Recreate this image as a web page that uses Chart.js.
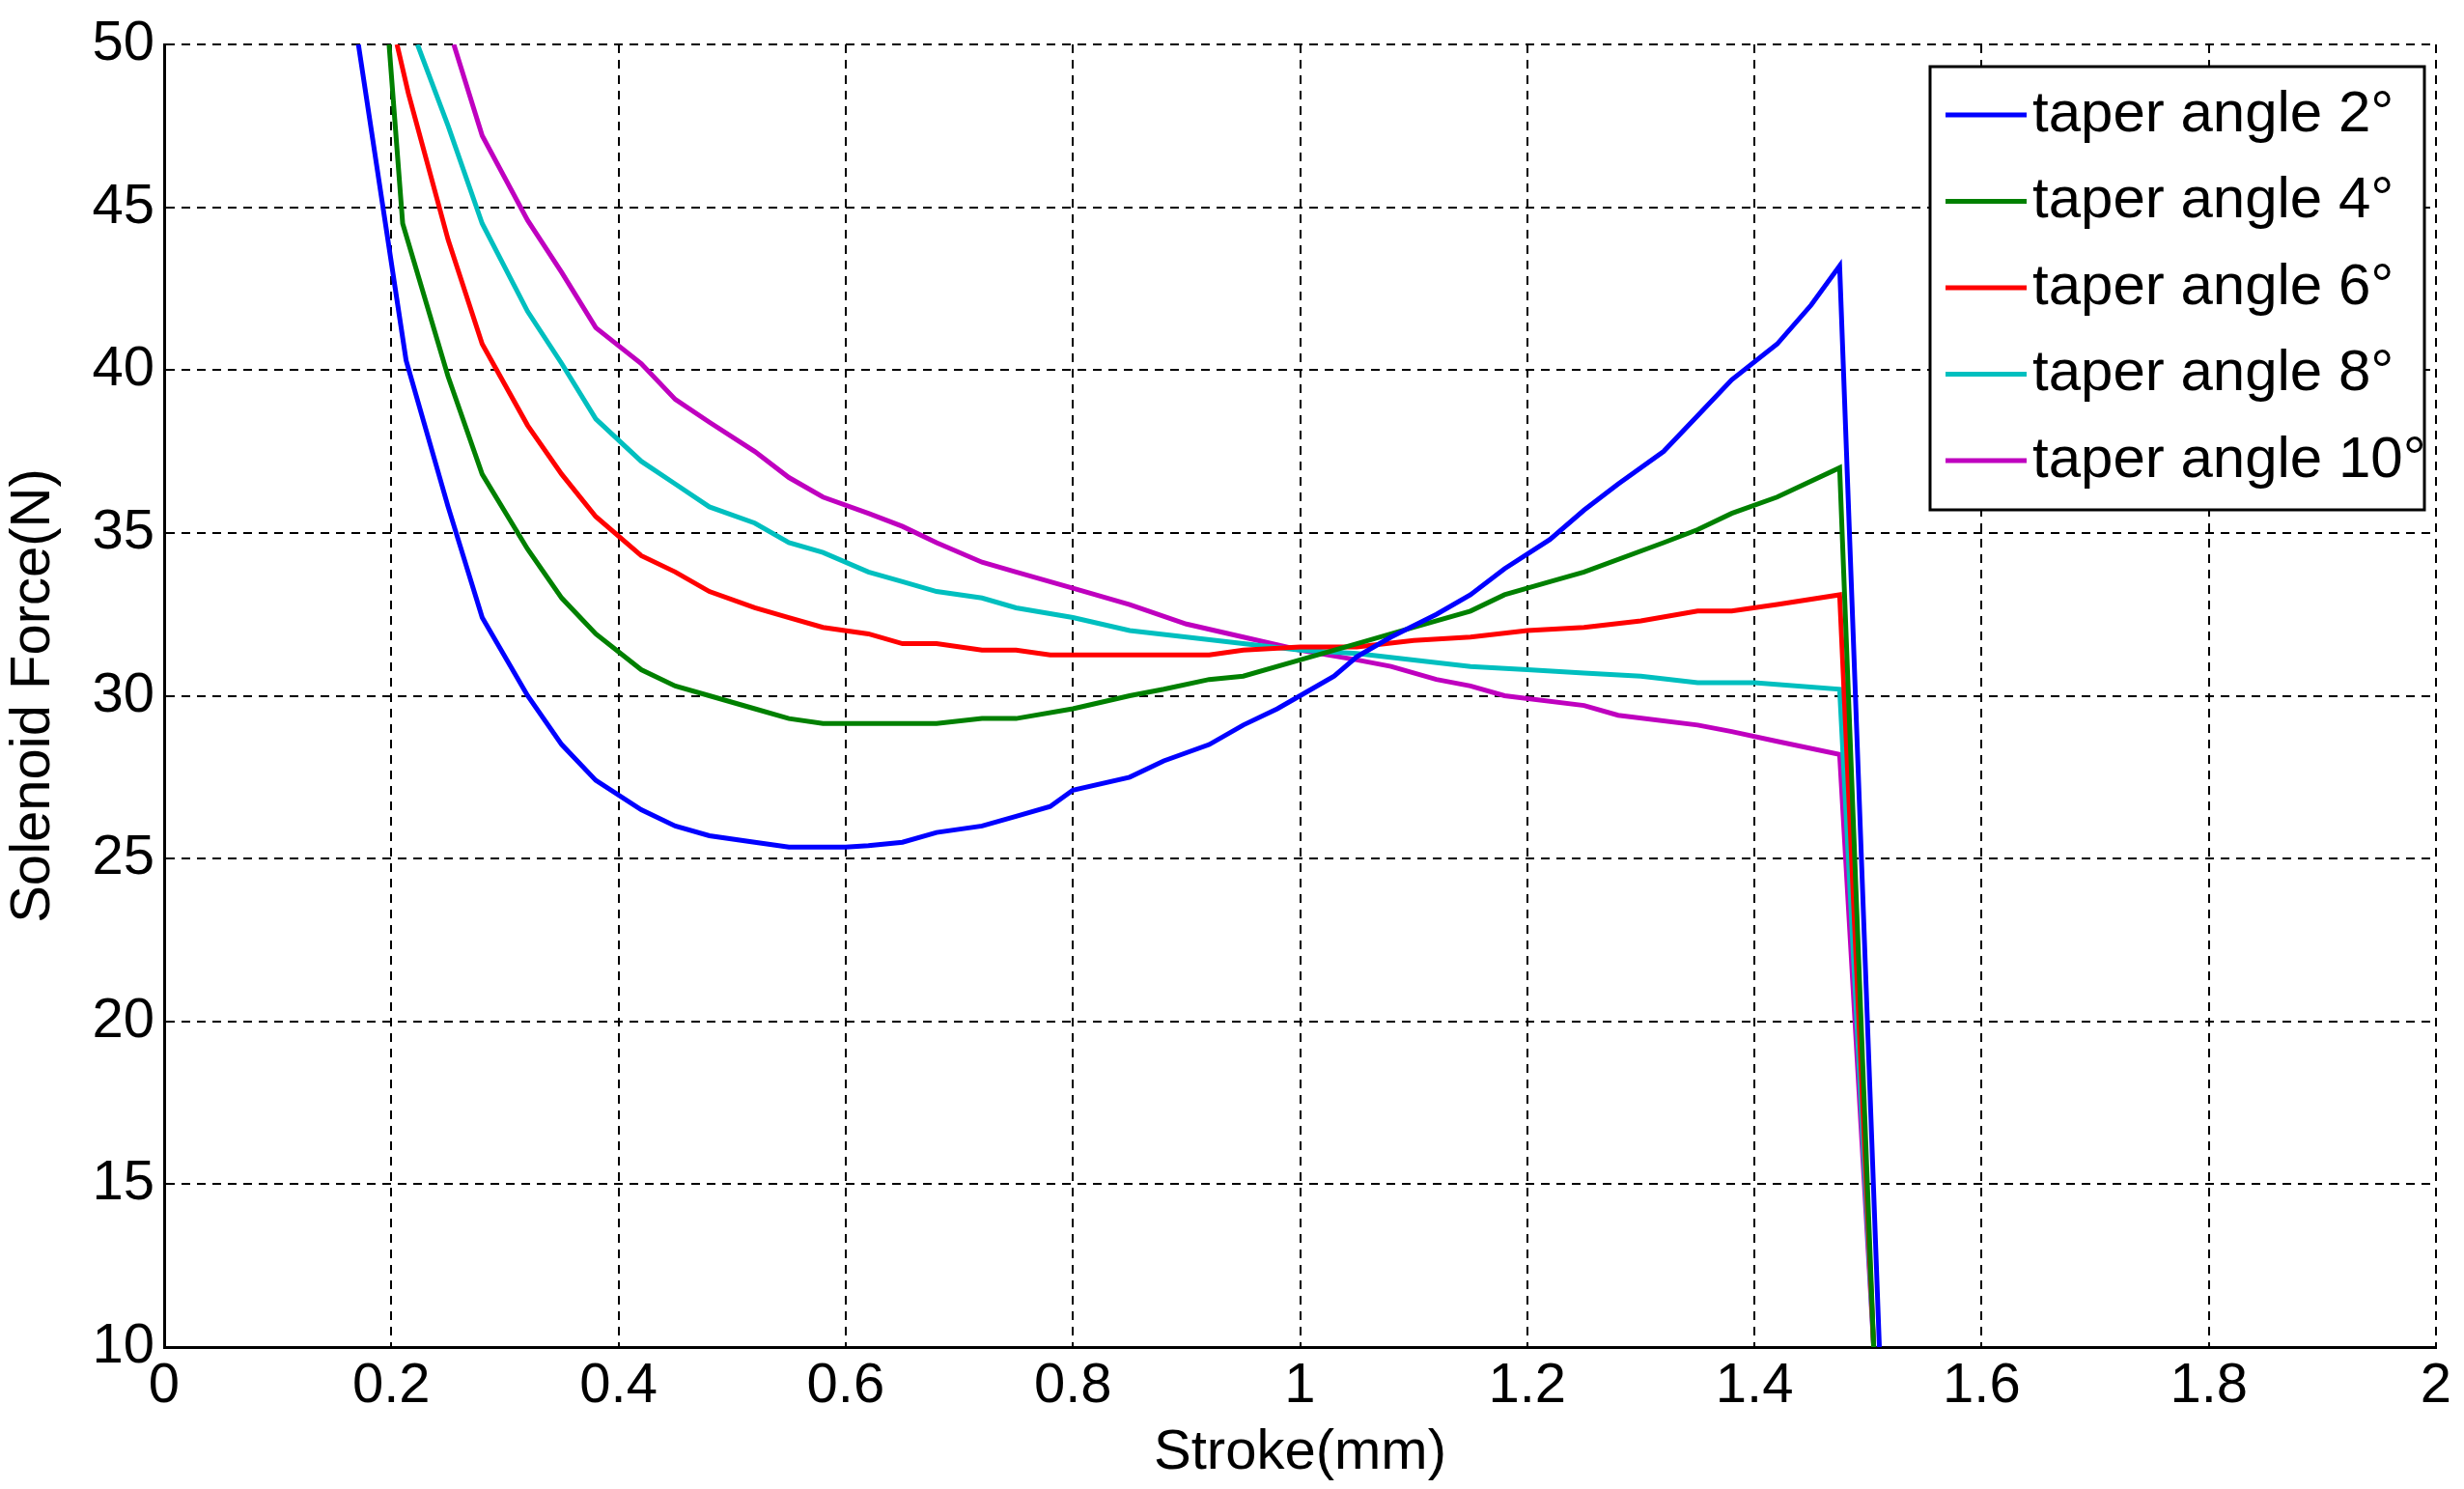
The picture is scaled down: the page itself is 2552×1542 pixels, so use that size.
<!DOCTYPE html>
<html><head><meta charset="utf-8">
<script src="https://cdn.jsdelivr.net/npm/chart.js@4/dist/chart.umd.min.js"></script>
<style>html,body{margin:0;padding:0;background:#fff}</style>
</head><body>
<canvas id="c" width="2552" height="1542"></canvas>
<script>
const labels = ['taper angle 2°','taper angle 4°','taper angle 6°','taper angle 8°','taper angle 10°'];
const colors = ['#0000ff','#008000','#ff0000','#00bfbf','#bf00bf'];
const s2x = [0.171,0.213,0.25,0.28,0.32,0.35,0.38,0.42,0.45,0.48,0.52,0.55,0.6,0.62,0.65,0.68,0.72,0.75,0.78,0.8,0.85,0.88,0.92,0.95,0.98,1.0,1.03,1.05,1.08,1.12,1.15,1.18,1.22,1.25,1.28,1.32,1.35,1.38,1.42,1.45,1.475,1.51];
const s2y = [50,40.3,35.8,32.4,30,28.5,27.4,26.5,26,25.7,25.5,25.35,25.35,25.4,25.5,25.8,26,26.3,26.6,27.1,27.5,28,28.5,29.1,29.6,30,30.6,31.2,31.8,32.5,33.1,33.9,34.8,35.7,36.5,37.5,38.6,39.7,40.8,42,43.2,10];
const s4x = [0.198,0.21,0.25,0.28,0.32,0.35,0.38,0.42,0.45,0.48,0.52,0.55,0.58,0.62,0.68,0.72,0.75,0.8,0.85,0.88,0.92,0.95,1.0,1.05,1.1,1.15,1.18,1.22,1.25,1.32,1.35,1.38,1.42,1.475,1.505];
const s4y = [50,44.5,39.8,36.8,34.5,33,31.9,30.8,30.3,30,29.6,29.3,29.15,29.15,29.15,29.3,29.3,29.6,30,30.2,30.5,30.6,31.1,31.6,32.1,32.6,33.1,33.5,33.8,34.7,35.1,35.6,36.1,37,10];
const s6x = [0.205,0.215,0.25,0.28,0.32,0.35,0.38,0.42,0.45,0.48,0.52,0.55,0.58,0.62,0.65,0.68,0.72,0.75,0.78,0.85,0.92,0.95,1.0,1.05,1.1,1.15,1.2,1.25,1.3,1.35,1.38,1.42,1.475,1.505];
const s6y = [50,48.5,44,40.8,38.3,36.8,35.5,34.3,33.8,33.2,32.7,32.4,32.1,31.9,31.6,31.6,31.4,31.4,31.25,31.25,31.25,31.4,31.5,31.5,31.7,31.8,32,32.1,32.3,32.6,32.6,32.8,33.1,10];
const s8x = [0.223,0.25,0.28,0.32,0.35,0.38,0.42,0.45,0.48,0.52,0.55,0.58,0.62,0.65,0.68,0.72,0.75,0.8,0.85,0.9,0.95,1.0,1.05,1.1,1.15,1.2,1.25,1.3,1.35,1.4,1.475,1.505];
const s8y = [50,47.5,44.5,41.8,40.2,38.5,37.2,36.5,35.8,35.3,34.7,34.4,33.8,33.5,33.2,33,32.7,32.4,32,31.8,31.6,31.4,31.3,31.1,30.9,30.8,30.7,30.6,30.4,30.4,30.2,10];
const s10x = [0.255,0.28,0.32,0.35,0.38,0.42,0.45,0.48,0.52,0.55,0.58,0.62,0.65,0.68,0.72,0.75,0.8,0.85,0.9,0.95,1.0,1.05,1.08,1.12,1.15,1.18,1.25,1.28,1.35,1.38,1.42,1.475,1.505];
const s10y = [50,47.2,44.6,43,41.3,40.2,39.1,38.4,37.5,36.7,36.1,35.6,35.2,34.7,34.1,33.8,33.3,32.8,32.2,31.8,31.4,31.1,30.9,30.5,30.3,30,29.7,29.4,29.1,28.9,28.6,28.2,10];
const xs=[s2x,s4x,s6x,s8x,s10x], ys=[s2y,s4y,s6y,s8y,s10y];
const FONT='"Liberation Sans", Arial, sans-serif';
const datasets = labels.map((l,i)=>({label:l,data:xs[i].map((x,j)=>({x,y:ys[i][j]})),borderColor:colors[i],borderWidth:5,pointRadius:0,fill:false,tension:0}));
const legendPlugin={id:'lg',afterDraw(ch){const c=ch.ctx;c.save();
 c.fillStyle='#fff';c.fillRect(1999,69,512,459);c.strokeStyle='#000';c.lineWidth=3;c.strokeRect(1999,69,512,459);
 c.font='60px '+FONT;c.textBaseline='middle';c.fillStyle='#000';
 ch.data.datasets.forEach((d,i)=>{const y=119+i*89.5;c.strokeStyle=d.borderColor;c.lineWidth=5;c.beginPath();c.moveTo(2015,y);c.lineTo(2099,y);c.stroke();c.fillText(d.label,2105,y);});
 c.restore();}};
new Chart(document.getElementById('c'),{type:'line',data:{datasets},plugins:[legendPlugin],
options:{responsive:false,animation:false,layout:{padding:{top:46,right:29,left:0,bottom:0}},
plugins:{legend:{display:false},tooltip:{enabled:false}},
scales:{
x:{type:'linear',min:0,max:2,afterFit(s){s.height=147;},
 ticks:{stepSize:0.2,color:'#000',font:{size:58,family:FONT},padding:6,maxRotation:0,callback:v=>+v.toFixed(1)+''},
 grid:{color:'#000',lineWidth:2,tickLength:0},border:{color:'#000',width:3,dash:[9,7]},
 title:{display:true,text:'Stroke(mm)',color:'#000',font:{size:58,family:FONT},padding:{top:0,bottom:2}}},
y:{type:'linear',min:10,max:50,afterFit(s){s.width=170;},
 ticks:{stepSize:5,color:'#000',font:{size:58,family:FONT},padding:10},
 grid:{color:'#000',lineWidth:2,tickLength:0},border:{color:'#000',width:3,dash:[9,7]},
 title:{display:true,text:'Solenoid Force(N)',color:'#000',font:{size:58,family:FONT},padding:{top:0,bottom:4}}}
}}});
</script></body></html>
